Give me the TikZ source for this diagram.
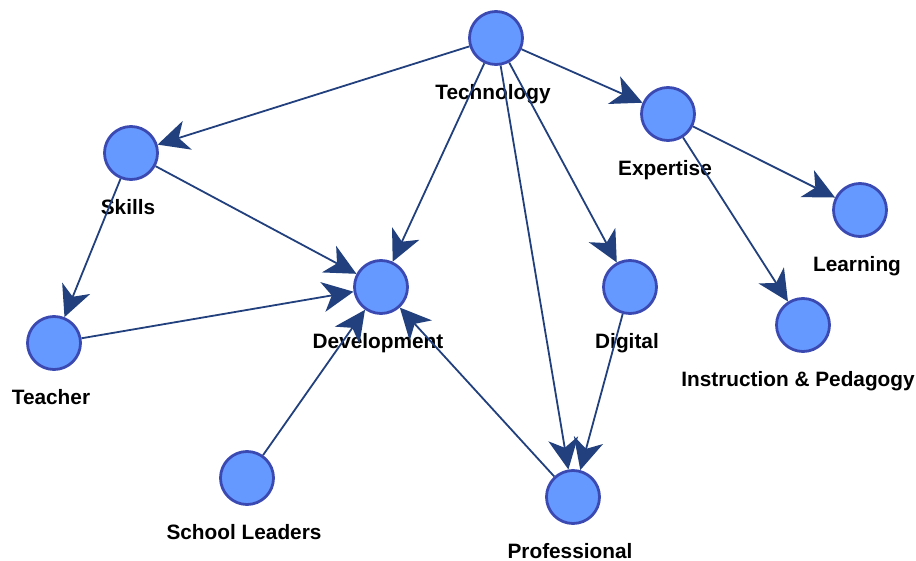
\documentclass[tikz,border=0pt]{standalone}
\usepackage{fontspec}
\setmainfont{Liberation Sans}
\usetikzlibrary{arrows.meta,positioning}
\definecolor{nodefill}{RGB}{102,153,255}
\definecolor{nodeline}{RGB}{59,74,178}
\definecolor{edgecol}{RGB}{33,64,125}

\begin{document}
\begin{tikzpicture}[x=1pt,y=-1pt,
    dot/.style={circle,draw=nodeline,fill=nodefill,line width=2.8pt,minimum size=53pt,inner sep=0pt},
    lbl/.style={font=\fontsize{20.8}{24}\selectfont\bfseries,inner sep=0pt,text height=15pt,text depth=4pt,xshift=-3pt},
    link/.style={draw=edgecol,line width=1.8pt,-{Stealth[length=31pt,width=30pt,inset=9pt]}}]
    \useasboundingbox (0,0) rectangle (916,561);
    % Nodes
    \node[dot] (tech) at (496,38) {};
    \node[dot] (skills) at (131,153) {};
    \node[dot] (expert) at (668,114) {};
    \node[dot] (learn) at (860,210) {};
    \node[dot] (devel) at (381,287) {};
    \node[dot] (digital) at (630,287) {};
    \node[dot] (teacher) at (54,343) {};
    \node[dot] (instr) at (803,325) {};
    \node[dot] (leaders) at (247,478) {};
    \node[dot] (prof) at (573,497) {};
    % Labels
    \node[lbl,below=18pt of tech] (techL) {Technology};
    \node[lbl,below=18pt of skills] (skillsL) {Skills};
    \node[lbl,below=18pt of expert] (expertL) {Expertise};
    \node[lbl,below=18pt of learn] (learnL) {Learning};
    \node[lbl,below=18pt of devel] (develL) {Development};
    \node[lbl,below=18pt of digital] (digitalL) {Digital};
    \node[lbl,below=18pt of teacher] (teacherL) {Teacher};
    \node[lbl,below=18pt of instr,xshift=-2pt] (instrL) {Instruction \& Pedagogy};
    \node[lbl,below=18pt of leaders] (leadersL) {School Leaders};
    \node[lbl,below=18pt of prof] (profL) {Professional};
    % Edges
    \draw[link] (tech) -- (skills);
    \draw[link] (tech) -- (devel);
    \draw[link] (tech) -- (prof);
    \draw[link] (tech) -- (digital);
    \draw[link] (tech) -- (expert);
    \draw[link] (expert) -- (learn);
    \draw[link] (expert) -- (instr);
    \draw[link] (skills) -- (devel);
    \draw[link] (skills) -- (teacher);
    \draw[link] (teacher) -- (devel);
    \draw[link] (leaders) -- (devel);
    \draw[link] (prof) -- (devel);
    \draw[link] (digital) -- (prof);
\end{tikzpicture}
\end{document}
